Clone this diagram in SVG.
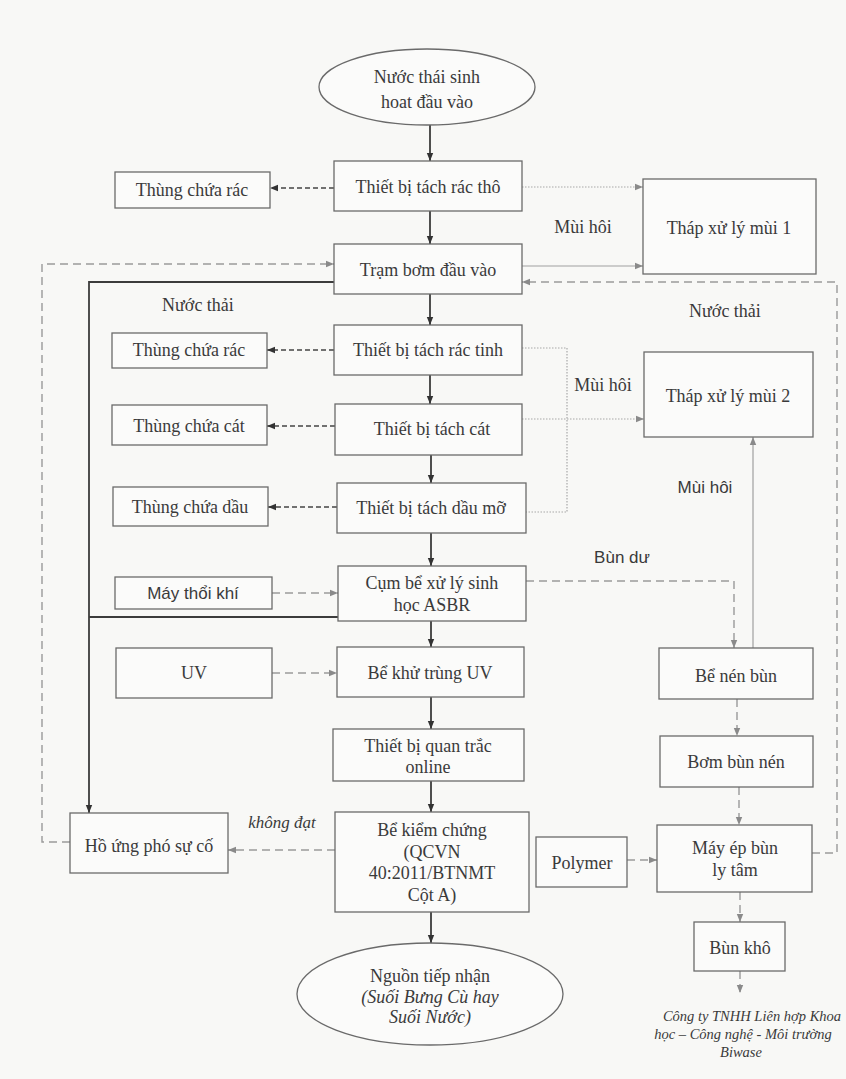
<svg xmlns="http://www.w3.org/2000/svg" width="846" height="1079" viewBox="0 0 846 1079">
<style>
.bx{fill:#fbfbfa;stroke:#6a6a6a;stroke-width:1.3}
.t{font-family:"Liberation Serif","Times New Roman",serif;font-size:18px;fill:#3a3a3a;text-anchor:middle}
.s{font-family:"Liberation Sans",Arial,sans-serif;font-size:17px;fill:#3a3a3a;text-anchor:middle}
.i{font-style:italic}
.solid{fill:none;stroke:#3c3c3c;stroke-width:1.8}
.dd{fill:none;stroke:#444;stroke-width:1.4;stroke-dasharray:5 3}
.gd{fill:none;stroke:#9a9a9a;stroke-width:1.4;stroke-dasharray:8 5}
.dot{fill:none;stroke:#a8a8a8;stroke-width:1.2;stroke-dasharray:1.5 1.5}
.lt{fill:none;stroke:#a0a0a0;stroke-width:1.2}
</style>
<defs>
<marker id="ma" viewBox="0 0 10 10" refX="10" refY="5" markerWidth="8" markerHeight="8" markerUnits="userSpaceOnUse" orient="auto"><path d="M0,1 L10,5 L0,9 z" fill="#333"/></marker>
<marker id="mg" viewBox="0 0 10 10" refX="10" refY="5" markerWidth="8" markerHeight="8" markerUnits="userSpaceOnUse" orient="auto"><path d="M0,1 L10,5 L0,9 z" fill="#8a8a8a"/></marker>
</defs>
<rect width="846" height="1079" fill="#f8f8f6"/>

<g id="connectors">
<path class="solid" marker-end="url(#ma)" d="M430,125 V161"/>
<path class="solid" marker-end="url(#ma)" d="M430,211 V244"/>
<path class="solid" marker-end="url(#ma)" d="M430,294 V325"/>
<path class="solid" marker-end="url(#ma)" d="M430,375 V404"/>
<path class="solid" marker-end="url(#ma)" d="M431,455 V483"/>
<path class="solid" marker-end="url(#ma)" d="M431,533 V566"/>
<path class="solid" marker-end="url(#ma)" d="M431,621 V647"/>
<path class="solid" marker-end="url(#ma)" d="M431,697 V729"/>
<path class="solid" marker-end="url(#ma)" d="M431,781 V812"/>
<path class="solid" marker-end="url(#ma)" d="M431,912 V943"/>
<path class="dd" marker-end="url(#ma)" d="M334,188 H270"/>
<path class="dd" marker-end="url(#ma)" d="M334,350 H267"/>
<path class="dd" marker-end="url(#ma)" d="M335,426 H267"/>
<path class="dd" marker-end="url(#ma)" d="M337,507 H268"/>
<path class="gd" marker-end="url(#mg)" d="M272,593 H338"/>
<path class="gd" marker-end="url(#mg)" d="M272,673 H337"/>
<path class="solid" marker-end="url(#ma)" d="M334,282 H89 V813"/>
<path class="solid" d="M338,617 H89"/>
<path class="gd" marker-end="url(#mg)" d="M70,842 H42 V264 H334"/>
<path class="gd" marker-end="url(#mg)" d="M812,853 H837 V282 H522"/>
<path class="dot" marker-end="url(#mg)" d="M522,187 H643"/>
<path class="lt" marker-end="url(#mg)" d="M522,266 H643"/>
<path class="dot" d="M522,348 H567 V512 H526"/>
<path class="dot" marker-end="url(#mg)" d="M522,419 H644"/>
<path class="lt" marker-end="url(#mg)" d="M753,648 V437"/>
<path class="gd" marker-end="url(#mg)" d="M526,581 H734 V648"/>
<path class="gd" marker-end="url(#mg)" d="M737,699 V736"/>
<path class="gd" marker-end="url(#mg)" d="M739,787 V825"/>
<path class="gd" marker-end="url(#mg)" d="M627,860 H657"/>
<path class="gd" marker-end="url(#mg)" d="M740,892 V922"/>
<path class="gd" marker-end="url(#mg)" d="M740,971 V993"/>
<path class="gd" marker-end="url(#mg)" d="M335,850 H228"/>
</g>

<g id="labels">
<text class="t" x="198" y="311">Nước thải</text>
<text class="t" x="725" y="317">Nước thải</text>
<text class="t" x="583" y="233">Mùi hôi</text>
<text class="t" x="603" y="391">Mùi hôi</text>
<text class="s" x="705" y="493">Mùi hôi</text>
<text class="s" x="622" y="563">Bùn dư</text>
<text class="t i" x="282" y="828" style="font-size:17px">không đạt</text>
</g>

<g id="n-input"><ellipse cx="427" cy="87" rx="108" ry="38" class="bx"/><text class="t" x="427" y="83">Nước thái sinh</text><text class="t" x="427" y="108">hoat đầu vào</text></g>
<g id="n-racTho"><rect x="334" y="161" width="188" height="50" class="bx"/><text class="t" x="428" y="193">Thiết bị tách rác thô</text></g>
<g id="n-thungRac1"><rect x="115" y="172" width="155" height="36" class="bx"/><text class="t" x="192" y="196">Thùng chứa rác</text></g>
<g id="n-tram"><rect x="334" y="244" width="188" height="50" class="bx"/><text class="t" x="428" y="276">Trạm bơm đầu vào</text></g>
<g id="n-thap1"><rect x="643" y="179" width="173" height="95" class="bx"/><text class="t" x="729" y="234">Tháp xử lý mùi 1</text></g>
<g id="n-racTinh"><rect x="334" y="325" width="188" height="50" class="bx"/><text class="t" x="428" y="356">Thiết bị tách rác tinh</text></g>
<g id="n-thungRac2"><rect x="112" y="333" width="155" height="35" class="bx"/><text class="t" x="189" y="356">Thùng chứa rác</text></g>
<g id="n-cat"><rect x="335" y="404" width="187" height="51" class="bx"/><text class="t" x="432" y="435">Thiết bị tách cát</text></g>
<g id="n-thungCat"><rect x="112" y="405" width="155" height="40" class="bx"/><text class="t" x="189" y="432">Thùng chứa cát</text></g>
<g id="n-dau"><rect x="337" y="483" width="189" height="50" class="bx"/><text class="t" x="431" y="514">Thiết bị tách dầu mỡ</text></g>
<g id="n-thungDau"><rect x="113" y="487" width="155" height="39" class="bx"/><text class="t" x="190" y="513">Thùng chứa dầu</text></g>
<g id="n-thap2"><rect x="644" y="352" width="169" height="85" class="bx"/><text class="t" x="728" y="402">Tháp xử lý mùi 2</text></g>
<g id="n-asbr"><rect x="338" y="566" width="188" height="55" class="bx"/><text class="t" x="432" y="589">Cụm bể xử lý sinh</text><text class="t" x="432" y="611">học ASBR</text></g>
<g id="n-mayThoi"><rect x="115" y="577" width="157" height="32" class="bx"/><text class="s" x="193" y="599">Máy thổi khí</text></g>
<g id="n-beUV"><rect x="337" y="647" width="187" height="50" class="bx"/><text class="t" x="430" y="679">Bể khử trùng UV</text></g>
<g id="n-uv"><rect x="116" y="648" width="156" height="50" class="bx"/><text class="t" x="194" y="679">UV</text></g>
<g id="n-quanTrac"><rect x="333" y="729" width="191" height="52" class="bx"/><text class="t" x="428" y="752">Thiết bị quan trắc</text><text class="t" x="428" y="773">online</text></g>
<g id="n-beNen"><rect x="659" y="648" width="154" height="51" class="bx"/><text class="t" x="736" y="682">Bể nén bùn</text></g>
<g id="n-bomBun"><rect x="660" y="736" width="153" height="51" class="bx"/><text class="t" x="736" y="768">Bơm bùn nén</text></g>
<g id="n-kiemChung"><rect x="335" y="812" width="194" height="100" class="bx"/><text class="t" x="432" y="836">Bể kiểm chứng</text><text class="t" x="432" y="858">(QCVN</text><text class="t" x="432" y="879">40:2011/BTNMT</text><text class="t" x="432" y="901">Cột A)</text></g>
<g id="n-ho"><rect x="70" y="813" width="158" height="60" class="bx"/><text class="t" x="149" y="852">Hồ ứng phó sự cố</text></g>
<g id="n-nguon"><ellipse cx="430" cy="994" rx="133" ry="51" class="bx"/><text class="t" x="430" y="982">Nguồn tiếp nhận</text><text class="t i" x="430" y="1003">(Suối Bưng Cù hay</text><text class="t i" x="430" y="1023">Suối Nước)</text></g>
<g id="n-polymer"><rect x="536" y="837" width="91" height="50" class="bx"/><text class="t" x="582" y="869">Polymer</text></g>
<g id="n-mayEp"><rect x="657" y="825" width="155" height="67" class="bx"/><text class="t" x="735" y="854">Máy ép bùn</text><text class="t" x="735" y="876">ly tâm</text></g>
<g id="n-bunKho"><rect x="694" y="922" width="91" height="49" class="bx"/><text class="t" x="740" y="954">Bùn khô</text></g>
<g id="caption"><text class="t i" x="752" y="1021" style="font-size:14.5px">Công ty TNHH Liên hợp Khoa</text><text class="t i" x="743" y="1039" style="font-size:14.5px">học – Công nghệ - Môi trường</text><text class="t i" x="741" y="1057" style="font-size:14.5px">Biwase</text></g>
</svg>
